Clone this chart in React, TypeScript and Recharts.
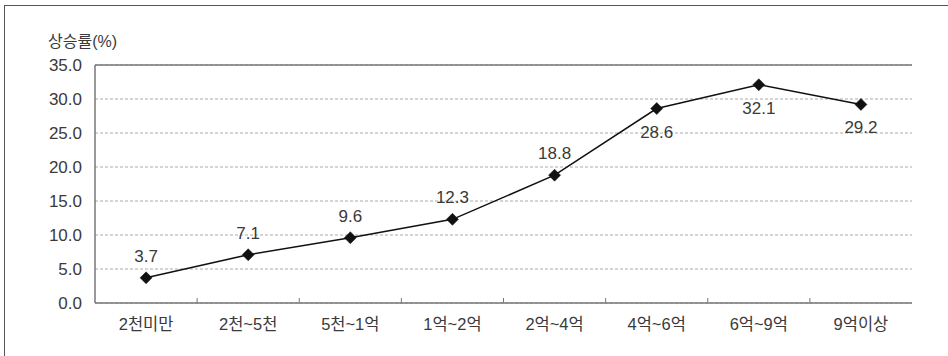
import React from 'react';
import { LineChart, Line, XAxis, YAxis, CartesianGrid, ReferenceLine, LabelList } from 'recharts';

// price bands and rise rate (%) per band
const CATEGORIES = ['2천미만', '2천~5천', '5천~1억', '1억~2억', '2억~4억', '4억~6억', '6억~9억', '9억이상'];
const RISE_RATES = [3.7, 7.1, 9.6, 12.3, 18.8, 28.6, 32.1, 29.2];
const Y_TICKS = [0, 5, 10, 15, 20, 25, 30, 35];

// bands whose value label sits under the marker
const LABEL_BELOW = ['4억~6억', '6억~9억', '9억이상'];

const FONT = "'Liberation Sans', 'Noto Sans CJK KR', Arial, sans-serif";
const AXIS_COLOR = '#777';
const TEXT_COLOR = '#3a3a3a';

const CHART_W = 948;
const CHART_H = 356;
const MARGIN = { top: 65, right: 36, bottom: 13, left: 0 };
const Y_AXIS_W = 95;
// each category gets an equal band; points sit at band centres
const BAND = (CHART_W - MARGIN.left - MARGIN.right - Y_AXIS_W) / CATEGORIES.length;

const data = CATEGORIES.map((name, i) => ({ name, rate: RISE_RATES[i] }));

const Diamond = (props: any) => {
  const { cx, cy } = props;
  if (cx == null || cy == null) return null;
  const r = 6;
  return (
    <polygon
      points={`${cx},${cy - r} ${cx + r},${cy} ${cx},${cy + r} ${cx - r},${cy}`}
      fill="#111"
      stroke="#111"
      strokeWidth={0.5}
    />
  );
};

const CategoryTick = (props: any) => {
  const { x, y, payload, index } = props;
  return (
    <g>
      {index > 0 && (
        <line x1={x - BAND / 2} x2={x - BAND / 2} y1={y} y2={y - 5} stroke={AXIS_COLOR} strokeWidth={1} />
      )}
      <text x={x} y={y + 27} textAnchor="middle" fontSize={16.5} fill={TEXT_COLOR} fontFamily={FONT}>
        {payload.value}
      </text>
    </g>
  );
};

const ValueLabel = (props: any) => {
  const { x, y, value, index } = props;
  const below = LABEL_BELOW.includes(CATEGORIES[index]);
  return (
    <text
      x={x}
      y={below ? y + 29 : y - 16}
      textAnchor="middle"
      fontSize={17}
      fill={TEXT_COLOR}
      fontFamily={FONT}
    >
      {value.toFixed(1)}
    </text>
  );
};

export default function App() {
  return (
    <div style={{ position: 'absolute', left: 0, top: 0, width: CHART_W, height: CHART_H, background: '#fff', overflow: 'hidden' }}>
      <div
        style={{
          position: 'absolute',
          left: 4,
          top: 5,
          width: 1000,
          height: 400,
          borderLeft: '1px solid #555',
          borderTop: '1px solid #555',
        }}
      />
      <div
        style={{
          position: 'absolute',
          left: 48,
          top: 32,
          fontSize: 16,
          lineHeight: '19px',
          color: TEXT_COLOR,
          fontFamily: FONT,
        }}
      >
        상승률(%)
      </div>
      <div style={{ position: 'absolute', left: 0, top: 0 }}>
        <LineChart width={CHART_W} height={CHART_H} data={data} margin={MARGIN}>
          <CartesianGrid
            yAxisId="left"
            vertical={false}
            stroke="#aaa"
            strokeDasharray="3 2"
          />
          <XAxis
            dataKey="name"
            height={40}
            padding={{ left: BAND / 2, right: BAND / 2 }}
            tickSize={0}
            tickMargin={0}
            tickLine={false}
            axisLine={{ stroke: AXIS_COLOR, strokeWidth: 1.5 }}
            tick={<CategoryTick />}
            interval={0}
          />
          <YAxis
            yAxisId="left"
            width={Y_AXIS_W}
            domain={[0, 35]}
            ticks={Y_TICKS}
            tickLine={false}
            tickMargin={7}
            axisLine={{ stroke: AXIS_COLOR, strokeWidth: 1.5 }}
            tickFormatter={(v: number) => v.toFixed(1)}
            tick={{ fontSize: 17, fill: TEXT_COLOR, fontFamily: FONT }}
          />
          <YAxis
            yAxisId="right"
            orientation="right"
            width={0}
            domain={[0, 35]}
            tick={false}
            tickLine={false}
            axisLine={{ stroke: AXIS_COLOR, strokeWidth: 1.5 }}
          />
          <ReferenceLine yAxisId="left" y={35} stroke={AXIS_COLOR} strokeWidth={1.5} />
          <Line
            yAxisId="left"
            type="linear"
            dataKey="rate"
            stroke="#111"
            strokeWidth={1.5}
            dot={<Diamond />}
            activeDot={false}
            isAnimationActive={false}
          >
            <LabelList dataKey="rate" content={<ValueLabel />} />
          </Line>
        </LineChart>
      </div>
    </div>
  );
}
